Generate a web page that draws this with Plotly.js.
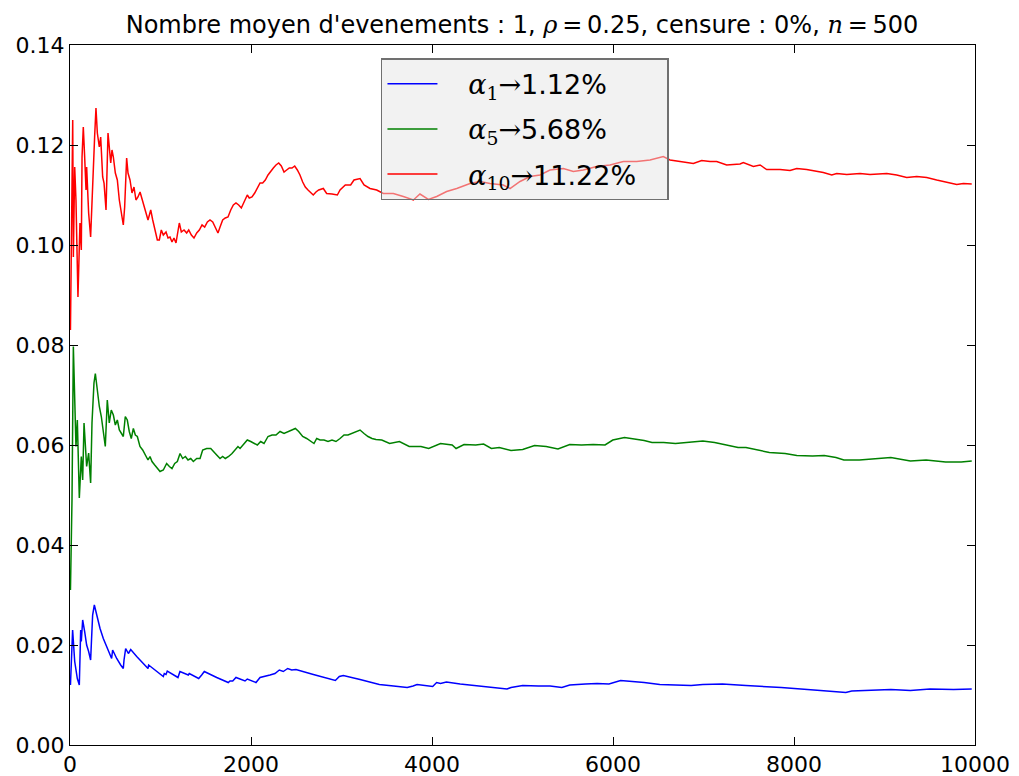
<!DOCTYPE html>
<html>
<head>
<meta charset="utf-8">
<script src="https://cdn.plot.ly/plotly-3.0.1.min.js"></script>
<style>html,body{margin:0;padding:0;background:#fff;}#chart{width:1019px;height:776px;}</style>
</head>
<body>
<div id="chart"></div>
<script>
// ---- data ----
const seriesNames = ["α1", "α5", "α10"];
const finalValues = ["1.12%", "5.68%", "11.22%"];

const blueX = [5,29,52,81,103,118,125,140,162,184,
  206,228,236,250,269,295,332,368,424,460,
  471,516,560,589,597,615,645,671,737,810,
  862,869,939,1031,1042,1061,1075,1142,1193,1215,
  1307,1318,1422,1455,1484,1621,1749,1768,1798,1834,
  1934,1959,2055,2100,2155,2210,2265,2313,2357,2405,
  2450,2497,2689,2932,2976,3020,3205,3418,3575,3726,
  3791,3835,4008,4051,4094,4159,4311,4526,4700,4829,
  4873,5002,5176,5305,5435,5522,5695,5824,5955,6084,
  6344,6517,6690,6863,6993,7209,7469,7859,8292,8573,
  8638,8853,9070,9286,9503,9763,9964];
const blueY = [0.012,0.023,0.0167,0.0133,0.012,0.023,0.0207,0.025,0.0227,0.02,
  0.0187,0.017,0.0203,0.026,0.028,0.026,0.0233,0.0213,0.019,0.0173,
  0.019,0.0173,0.016,0.0153,0.017,0.0193,0.0183,0.0191,0.0177,0.0163,
  0.0153,0.016,0.015,0.0137,0.0143,0.0141,0.0148,0.0141,0.0135,0.0147,
  0.014,0.0143,0.0133,0.014,0.0147,0.0135,0.0125,0.0128,0.0128,0.0135,
  0.0128,0.0132,0.0125,0.0135,0.0137,0.014,0.0143,0.015,0.0147,0.0153,
  0.015,0.0151,0.0141,0.0129,0.0137,0.0139,0.0131,0.0121,0.0118,0.0115,
  0.0118,0.0121,0.0117,0.0125,0.0123,0.0126,0.0122,0.0118,0.0115,0.0112,
  0.0115,0.0119,0.0118,0.0118,0.0115,0.012,0.0122,0.0123,0.0122,0.0129,
  0.0125,0.0121,0.012,0.0119,0.0121,0.0122,0.0119,0.0115,0.0109,0.0105,
  0.0108,0.0109,0.0111,0.0109,0.0112,0.0111,0.0112];

const greenX = [5,22,37,52,66,81,103,125,140,155,
  169,184,206,228,243,265,280,302,324,346,
  368,390,412,434,456,479,501,523,545,567,
  589,611,633,655,677,700,722,744,773,803,
  832,862,884,906,936,965,995,1031,1068,1098,
  1127,1157,1186,1216,1245,1275,1304,1334,1363,1400,
  1437,1466,1510,1555,1591,1621,1658,1687,1716,1753,
  1790,1827,1856,1879,1915,1959,1997,2033,2070,2107,
  2144,2188,2232,2276,2321,2365,2409,2453,2490,2527,
  2571,2615,2660,2696,2726,2763,2807,2851,2895,2939,
  2984,3028,3072,3116,3160,3205,3249,3293,3337,3381,
  3445,3532,3640,3748,3878,3964,4094,4223,4266,4354,
  4483,4570,4656,4743,4873,5002,5133,5262,5392,5522,
  5652,5781,5912,5998,6127,6214,6344,6431,6560,6690,
  6820,6993,7123,7252,7382,7469,7599,7728,7902,8031,
  8205,8334,8464,8551,8723,8897,9070,9286,9460,9675,
  9848,9964];
const greenY = [0.031,0.049,0.0797,0.0697,0.0597,0.065,0.0494,0.0577,0.053,0.0644,
  0.061,0.0557,0.0584,0.0524,0.0644,0.0724,0.0743,0.0704,0.0677,0.0657,
  0.063,0.0597,0.069,0.0644,0.067,0.066,0.064,0.065,0.063,0.0624,
  0.0617,0.0657,0.065,0.0627,0.0613,0.0633,0.062,0.0617,0.0597,0.059,
  0.058,0.057,0.0577,0.0567,0.056,0.0553,0.0547,0.055,0.0563,0.0557,
  0.0553,0.0563,0.0567,0.0583,0.0573,0.0577,0.057,0.0573,0.0567,0.0573,
  0.0573,0.059,0.0593,0.0593,0.0587,0.058,0.0573,0.0577,0.0573,0.0577,
  0.0583,0.059,0.0597,0.0593,0.06,0.061,0.0607,0.0603,0.06,0.0607,
  0.0603,0.0617,0.062,0.062,0.0627,0.0623,0.0627,0.063,0.0633,0.0627,
  0.0617,0.0613,0.0607,0.0603,0.0613,0.061,0.061,0.0607,0.061,0.0607,
  0.0613,0.062,0.062,0.0623,0.0627,0.063,0.0623,0.0617,0.0613,0.0611,
  0.061,0.0603,0.0607,0.0597,0.0597,0.0593,0.0603,0.06,0.0593,0.0601,
  0.06,0.0602,0.0593,0.0595,0.0589,0.0591,0.0599,0.0597,0.0592,0.0601,
  0.06,0.0601,0.06,0.061,0.0615,0.0613,0.0609,0.0605,0.0605,0.0603,
  0.0605,0.0608,0.0605,0.06,0.0595,0.0595,0.059,0.0585,0.0583,0.0579,
  0.0578,0.0579,0.0575,0.057,0.057,0.0572,0.0575,0.0568,0.057,0.0566,
  0.0566,0.0568];

const redX = [5,30,37,52,66,88,110,125,133,147,
  162,177,184,206,228,250,272,287,302,324,
  339,361,376,398,420,434,450,464,479,501,
  523,545,567,589,604,626,641,663,685,707,
  729,751,774,796,818,840,862,892,914,936,
  965,987,1009,1031,1061,1083,1105,1127,1149,1171,
  1186,1208,1230,1260,1289,1312,1341,1370,1400,1429,
  1459,1488,1518,1547,1577,1606,1635,1658,1687,1716,
  1746,1776,1805,1834,1864,1893,1915,1937,1959,1981,
  2011,2041,2070,2100,2129,2158,2188,2218,2247,2276,
  2306,2335,2365,2394,2423,2453,2483,2512,2541,2571,
  2600,2630,2660,2688,2718,2748,2799,2836,2895,2954,
  2984,3042,3101,3138,3205,3249,3315,3389,3462,3573,
  3683,3794,3867,3960,4052,4162,4273,4420,4531,4641,
  4788,4862,4973,5083,5194,5304,5451,5562,5672,5820,
  5967,6114,6262,6409,6556,6630,6741,6888,6980,7072,
  7146,7256,7404,7440,7551,7625,7698,7846,7956,8030,
  8140,8251,8324,8417,8472,8583,8730,8840,9025,9135,
  9246,9356,9467,9577,9688,9798,9872,9964];
const redY = [0.083,0.125,0.0976,0.1156,0.109,0.0896,0.1044,0.099,0.1176,0.1236,
  0.1176,0.111,0.1156,0.1064,0.1016,0.113,0.1216,0.1274,0.1224,0.1196,
  0.1216,0.1136,0.1124,0.107,0.1224,0.1196,0.1164,0.119,0.1176,0.1144,
  0.113,0.109,0.1064,0.104,0.1076,0.1174,0.1144,0.113,0.1104,0.1116,
  0.109,0.1096,0.1106,0.109,0.1076,0.1064,0.105,0.107,0.105,0.103,
  0.101,0.101,0.103,0.102,0.1026,0.1014,0.1016,0.1006,0.1014,0.1004,
  0.1024,0.1044,0.1026,0.103,0.1024,0.103,0.102,0.1014,0.1024,0.103,
  0.104,0.1036,0.1046,0.105,0.1046,0.1036,0.1024,0.1036,0.105,0.1054,
  0.1056,0.107,0.108,0.1084,0.108,0.1074,0.1084,0.1094,0.11,0.1094,
  0.1096,0.1104,0.1114,0.1124,0.1124,0.113,0.114,0.1146,0.1154,0.116,
  0.1164,0.1158,0.1146,0.115,0.1154,0.1154,0.1158,0.115,0.114,0.1126,
  0.1116,0.111,0.1104,0.11,0.1106,0.111,0.1113,0.1103,0.1102,0.11,
  0.111,0.112,0.112,0.113,0.1133,0.112,0.1113,0.111,0.1103,0.1103,
  0.1097,0.109,0.1102,0.1091,0.1097,0.1107,0.1113,0.1123,0.1127,0.1123,
  0.112,0.1113,0.1127,0.1137,0.114,0.115,0.1153,0.1147,0.115,0.1157,
  0.116,0.1167,0.1167,0.117,0.1177,0.117,0.1167,0.1163,0.1169,0.1167,
  0.1167,0.116,0.1162,0.1165,0.1157,0.116,0.1151,0.1151,0.1149,0.1153,
  0.1151,0.1147,0.1145,0.114,0.1143,0.1141,0.1143,0.1141,0.1143,0.114,
  0.1135,0.1137,0.1135,0.113,0.1125,0.1121,0.1123,0.1122];

const xTickVals = [0,2000,4000,6000,8000,10000];
const yTickVals = [0,0.02,0.04,0.06,0.08,0.10,0.12,0.14];

// ---- build chart ----
const serif = "DejaVu Serif, serif";
function legendLabel(i) {
  const sub = seriesNames[i].slice(1);
  return '\u00a0\u00a0\u00a0<span style="font-family:' + serif + '"><i>α</i><sub>' + sub + '</sub>→</span>' + finalValues[i] + '\u00a0\u00a0\u00a0';
}
const colors = ["#0000ff", "#008000", "#ff0000"];
const xs = [blueX, greenX, redX];
const ys = [blueY, greenY, redY];

const traces = [0,1,2].map(i => ({
  type: "scatter", mode: "lines",
  x: xs[i], y: ys[i],
  name: legendLabel(i),
  legendgroup: "g" + i,
  line: {color: colors[i], width: 1.5},
  hoverinfo: "skip"
}));

const axisCommon = {
  showgrid: false, zeroline: false,
  showline: true, linecolor: "#000", linewidth: 1,
  mirror: "allticks", ticks: "inside", ticklen: 8, tickwidth: 1, tickcolor: "#000",
  tickfont: {family: "DejaVu Sans", size: 22, color: "#000"}
};

const layout = {
  width: 1019, height: 776,
  margin: {l: 70, r: 44, t: 45, b: 31},
  paper_bgcolor: "#fff", plot_bgcolor: "#fff",
  title: {
    text: 'Nombre moyen d\'evenements : 1, <span style="font-family:' + serif + '"><i>ρ</i></span>\u2009=\u20090.25, censure : 0%, <span style="font-family:' + serif + '"><i>n</i></span>\u2009=\u2009500',
    font: {family: "DejaVu Sans", size: 24, color: "#000"},
    x: 0.4995, xanchor: "center", xref: "paper",
    y: 0.968, yanchor: "middle"
  },
  xaxis: Object.assign({}, axisCommon, {
    range: [0, 10000], tickvals: xTickVals, tickformat: "d"
  }),
  yaxis: Object.assign({}, axisCommon, {
    range: [0, 0.14], tickvals: yTickVals, tickformat: ".2f"
  }),
  showlegend: true,
  legend: {
    x: 0.3436, y: 0.981, xanchor: "left", yanchor: "top",
    bgcolor: "rgba(230,230,230,0.5)", bordercolor: "#707070", borderwidth: 1.5,
    font: {family: "DejaVu Sans", size: 27, color: "#000"},
    traceorder: "grouped", tracegroupgap: 7,
    itemwidth: 50
  }
};

Plotly.newPlot("chart", traces, layout, {displayModeBar: false, staticPlot: true});
</script>
</body>
</html>
